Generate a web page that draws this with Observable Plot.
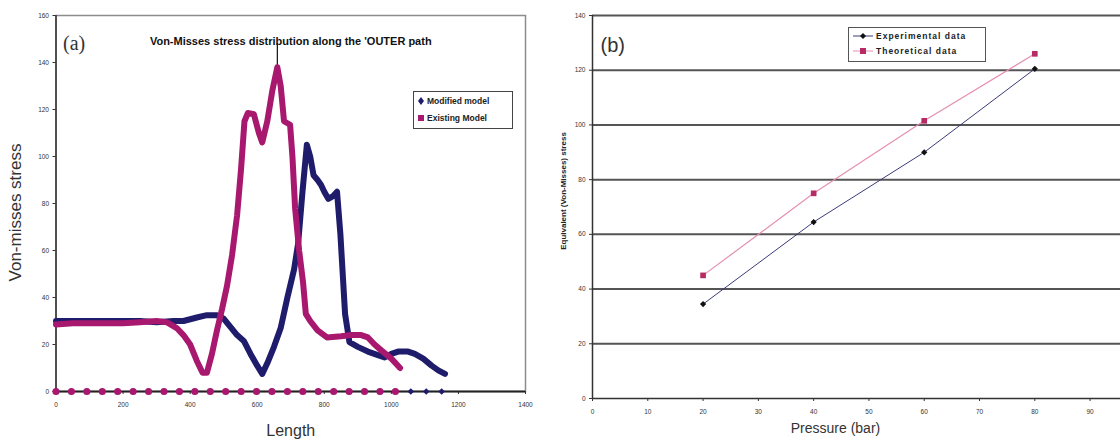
<!DOCTYPE html>
<html><head><meta charset="utf-8">
<script src="https://cdn.jsdelivr.net/npm/d3@7"></script>
<script src="https://cdn.jsdelivr.net/npm/@observablehq/plot@0.6"></script>
<style>
body{margin:0;background:#fff;}
#wrap{position:relative;width:1120px;height:442px;overflow:hidden;background:#fff;font-family:"Liberation Sans",Arial,sans-serif;}
#a,#b{position:absolute;top:0;}
#a{left:0}#b{left:560px}
.leg{position:absolute;background:#fff;box-sizing:border-box;color:#222;font-weight:bold;}
.leg .row{position:absolute;left:3px;display:flex;align-items:center;white-space:nowrap;}
.leg svg{display:block;margin-right:2px;}
</style></head><body><div id="wrap"><div id="a"></div><div id="b"></div>
<div class="leg" id="legA" style="left:413px;top:91px;width:100px;height:38px;border:1.5px solid #444;font-size:8.5px;">
  <div class="row" style="top:4px"><svg width="8" height="10"><path d="M4,1 L7,5 L4,9 L1,5Z" fill="#1f1c6b"/></svg><span>Modified model</span></div>
  <div class="row" style="top:21px"><svg width="8" height="10"><rect x="1" y="2" width="6" height="6" fill="#a8186f"/></svg><span>Existing Model</span></div>
</div>
<div class="leg" id="legB" style="left:848px;top:27px;width:138px;height:35px;border:1.5px solid #555;font-size:8.5px;letter-spacing:1px;">
  <div class="row" style="top:3px"><svg width="22" height="10"><line x1="1" y1="5" x2="21" y2="5" stroke="#3b3b7a" stroke-width="1"/><path d="M11,2 L14,5 L11,8 L8,5Z" fill="#111"/></svg><span>Experimental data</span></div>
  <div class="row" style="top:18px"><svg width="22" height="10"><line x1="1" y1="5" x2="21" y2="5" stroke="#e58fb2" stroke-width="1"/><rect x="8" y="2" width="6" height="6" fill="#b82a63"/></svg><span>Theoretical data</span></div>
</div>
</div>
<script>
// ---------- Panel (a) data ----------
const modifiedLength = [0,50,100,150,200,250,300,350,380,420,450,480,500,520,540,560,580,600,615,630,650,670,690,710,722,735,748,758,768,780,790,800,812,825,838,848,862,875,900,930,960,980,1000,1020,1050,1070,1095,1120,1140,1160];
const modifiedStress = [30,30,30,30,30,30,29.5,30,30,31.5,32.5,32.5,31,27.5,24,21.5,16,11,7.5,12,19,27,40,52,63,85,105,100,92,90,88,85,82,83,85,67,33,21,19,17,15.5,14.5,16,17,17,16,14,11,9,7.5];
const existingLength = [0,50,100,150,200,250,300,330,360,380,400,420,437,450,465,480,495,510,525,540,552,562,572,590,605,615,630,645,660,670,680,698,705,713,725,737,745,758,780,808,850,880,910,930,950,970,1000,1026];
const existingStress = [28.5,29,29,29,29,29.5,30,29.5,27,24,20,13,8,8,16,26,35,45,58,75,95,115,118.5,118,110,106,115,128,138,130,115,113.5,100,78,60,46,33,30,26,23,23.5,24,24,23,20,17.5,14,10];
const zeroMarksExisting = [0,46,92,138,184,230,276,322,368,414,460,506,552,598,644,690,736,782,828,874,920,966,1012];
const zeroMarksModified = [0,46,92,138,184,230,276,322,368,414,460,506,552,598,644,690,736,782,828,874,920,966,1012,1058,1104,1150];
const xTicksA = [0,200,400,600,800,1000,1200,1400];
const yTicksA = [0,20,40,60,80,100,120,140,160];

// ---------- Panel (b) data ----------
const pressure = [20,40,60,80];
const experimental = [34.5,64.5,90,120.5];
const theoretical = [45,75,101.5,126];
const xTicksB = [0,10,20,30,40,50,60,70,80,90];
const yTicksB = [0,20,40,60,80,100,120,140];

const NAVY = "#1f1c6b", MAG = "#a8186f";
const modified = modifiedLength.map((x,i)=>({x, y:modifiedStress[i]}));
const existing = existingLength.map((x,i)=>({x, y:existingStress[i]}));
const peakIdx = existingStress.indexOf(d3.max(existingStress));
const plain = d => String(d);

const A = Plot.plot({
  width:560, height:442, marginLeft:55.5, marginRight:35, marginTop:15, marginBottom:51,
  x:{domain:[0,1400]}, y:{domain:[0,160]},
  style:{background:"transparent", fontFamily:"'Liberation Sans', Arial, sans-serif", overflow:"visible", color:"#333"},
  marks:[
    Plot.frame({stroke:"#8c8c8c", strokeWidth:1.5}),
    Plot.axisY({ticks:yTicksA, tickFormat:plain, tickSize:3, tickPadding:4, fontSize:6.5, label:null, stroke:"#333"}),
    Plot.axisX({ticks:xTicksA, tickFormat:plain, tickSize:3, tickPadding:8, fontSize:6.5, label:null, stroke:"#333"}),
    Plot.ruleX([0], {stroke:"#333", strokeWidth:1.5}),
    Plot.ruleY([0], {stroke:"#222", strokeWidth:2}),
    Plot.ruleX([existingLength[peakIdx]], {y1:existingStress[peakIdx], y2:148, stroke:"#111", strokeWidth:1.2}),
    Plot.line(modified, {x:"x", y:"y", stroke:NAVY, strokeWidth:6, strokeLinejoin:"round", strokeLinecap:"round"}),
    Plot.line(existing, {x:"x", y:"y", stroke:MAG, strokeWidth:6, strokeLinejoin:"round", strokeLinecap:"round"}),
    Plot.dot(zeroMarksModified, {x:d=>d, y:0, symbol:"diamond2", r:3, fill:NAVY, stroke:"none"}),
    Plot.dot(zeroMarksExisting, {x:d=>d, y:0, r:3.6, fill:MAG, stroke:"none"}),
    Plot.text(["Von-Misses stress distribution along the 'OUTER path"], {frameAnchor:"top", dy:22, fontSize:11, fontWeight:"bold", fill:"#111", letterSpacing:-0.3}),
    Plot.text(["(a)"], {frameAnchor:"top-left", dx:7, dy:20, textAnchor:"start", fontSize:20, fontFamily:"'Liberation Serif', 'Times New Roman', serif", fill:"#333"}),
    Plot.text(["Von-misses stress"], {frameAnchor:"left", textAnchor:"middle", dx:-40, dy:9, rotate:-90, fontSize:17, fill:"#333"}),
    Plot.text(["Length"], {frameAnchor:"bottom", dy:44, fontSize:16, fill:"#333"})
  ]
});
document.getElementById("a").appendChild(A);

const B = Plot.plot({
  width:560, height:442, marginLeft:32, marginRight:0, marginTop:15, marginBottom:44,
  x:{domain:[0,95.5]}, y:{domain:[0,140]},
  style:{background:"transparent", fontFamily:"'Liberation Sans', Arial, sans-serif", overflow:"visible", color:"#333"},
  marks:[
    Plot.gridY({ticks:yTicksB.filter(t=>t>0), stroke:"#555", strokeWidth:2, strokeOpacity:1}),
    Plot.axisY({ticks:yTicksB, tickFormat:plain, tickSize:3, tickPadding:4, fontSize:6.5, label:null, stroke:"#333"}),
    Plot.axisX({ticks:xTicksB, tickFormat:plain, tickSize:3, tickPadding:8, fontSize:6.5, label:null, stroke:"#333"}),
    Plot.ruleX([0], {stroke:"#333", strokeWidth:1.5}),
    Plot.ruleY([0], {stroke:"#333", strokeWidth:1.5}),
    Plot.line(pressure, {x:d=>d, y:(d,i)=>theoretical[i], stroke:"#e58fb2", strokeWidth:1.2}),
    Plot.line(pressure, {x:d=>d, y:(d,i)=>experimental[i], stroke:"#3b3b7a", strokeWidth:1}),
    Plot.dot(pressure, {x:d=>d, y:(d,i)=>theoretical[i], symbol:"square", r:3.2, fill:"#b82a63", stroke:"none"}),
    Plot.dot(pressure, {x:d=>d, y:(d,i)=>experimental[i], symbol:"diamond2", r:2.8, fill:"#111", stroke:"none"}),
    Plot.text(["(b)"], {frameAnchor:"top-left", dx:8, dy:22, textAnchor:"start", fontSize:20, fill:"#333"}),
    Plot.text(["Pressure (bar)"], {frameAnchor:"bottom", dx:-21, dy:34, fontSize:14, fill:"#333"}),
    Plot.text(["Equivalent (Von-Misses) stress"], {frameAnchor:"left", textAnchor:"middle", dx:-29, dy:-16, rotate:-90, fontSize:8, fontWeight:"bold", fill:"#222"})
  ]
});
document.getElementById("b").appendChild(B);
</script>
</body></html>
